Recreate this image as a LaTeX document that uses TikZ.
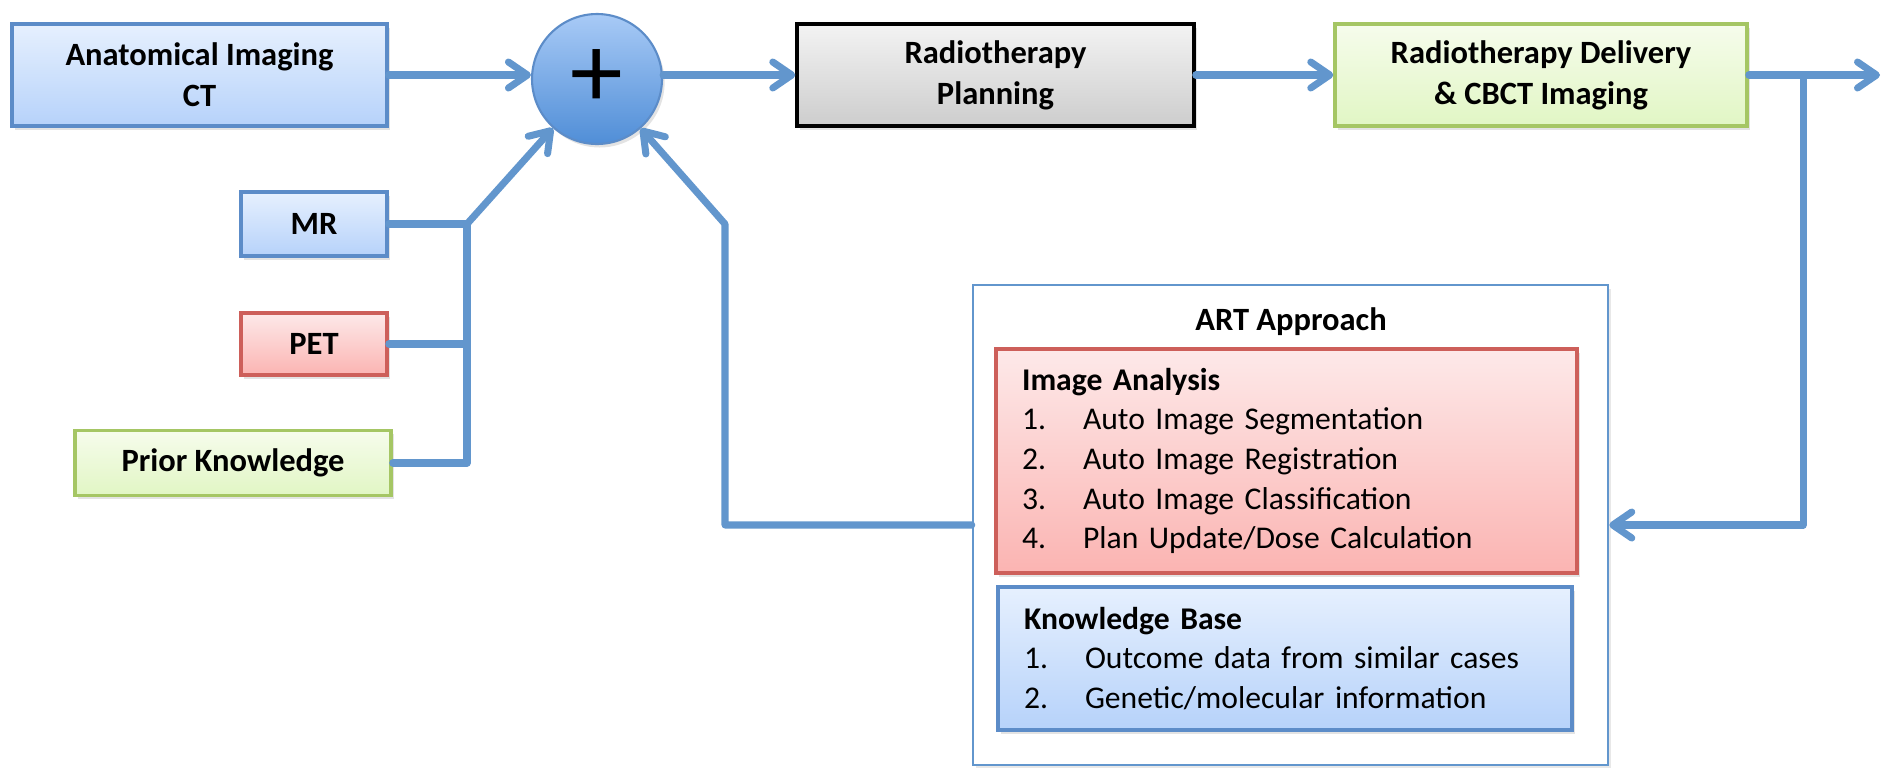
\documentclass[tikz,border=0pt]{standalone}
\usepackage{fontspec}
\setmainfont{Carlito}
\usetikzlibrary{arrows.meta, positioning, shadows}

\definecolor{arrowblue}{RGB}{98,150,205}
\definecolor{blueline}{RGB}{92,140,200}
\definecolor{bluetop}{RGB}{230,240,254}
\definecolor{bluebot}{RGB}{182,210,250}
\definecolor{redline}{RGB}{205,95,90}
\definecolor{redtop}{RGB}{253,233,233}
\definecolor{redbot}{RGB}{251,180,178}
\definecolor{greenline}{RGB}{165,198,100}
\definecolor{greentop}{RGB}{246,252,236}
\definecolor{greenbot}{RGB}{225,246,196}
\definecolor{graytop}{RGB}{243,243,243}
\definecolor{graybot}{RGB}{205,205,205}
\definecolor{circtop}{RGB}{168,202,246}
\definecolor{circbot}{RGB}{80,142,215}

\begin{document}
\begin{tikzpicture}[
    x=0.02cm, y=-0.02cm,
    mbox/.style={rectangle, line width=2pt, text centered, align=center, minimum height=2.04cm, font=\fontsize{18.5}{23.5}\selectfont\bfseries, drop shadow={opacity=0.22, shadow xshift=1.5pt, shadow yshift=-2pt}},
    bluebox/.style={mbox, draw=blueline, top color=bluetop, bottom color=bluebot},
    redbox/.style={mbox, draw=redline, top color=redtop, bottom color=redbot},
    greenbox/.style={mbox, draw=greenline, top color=greentop, bottom color=greenbot},
    graybox/.style={mbox, draw=black, top color=graytop, bottom color=graybot},
    listbox/.style={rectangle, line width=2pt, align=left, inner xsep=0.52cm, font=\fontsize{18}{22.6}\selectfont, drop shadow={opacity=0.22, shadow xshift=1.5pt, shadow yshift=-2pt}},
    mline/.style={line width=4pt, arrowblue, line join=round, line cap=round},
    marrow/.style={mline, -{Straight Barb[length=0.38cm, width=0.52cm, round]}}
]
\useasboundingbox (0,0) rectangle (1886,768);

% input boxes
\node[bluebox, minimum width=7.5cm] (ct) at (199.5,75) {Anatomical Imaging\\CT};
\node[bluebox, minimum width=2.92cm, minimum height=1.28cm] (mr) at (314,224) {MR};
\node[redbox, minimum width=2.92cm, minimum height=1.24cm] (pet) at (314,344) {PET};
\node[greenbox, minimum width=6.32cm, minimum height=1.3cm] (prior) at (233,463) {Prior Knowledge};

% sum and main chain
\node[circle, draw=blueline, line width=1.2pt, top color=circtop, bottom color=circbot, minimum size=2.6cm, inner sep=0pt, font=\fontsize{60}{60}\selectfont, drop shadow={opacity=0.22, shadow xshift=1.5pt, shadow yshift=-2pt}] (plus) at (597,79) {+};
\node[graybox, minimum width=7.94cm] (plan) at (995.5,75) {Radiotherapy\\Planning};
\node[greenbox, minimum width=8.24cm] (deliv) at (1541,75) {Radiotherapy Delivery\\\& CBCT Imaging};

% ART block
\node[draw=arrowblue, line width=1.5pt, fill=white, minimum width=12.7cm, minimum height=9.6cm, drop shadow={opacity=0.18, shadow xshift=1.5pt, shadow yshift=-2pt}] (art) at (1290.5,525) {};
\node[font=\fontsize{18.5}{22.8}\selectfont\bfseries] (arttitle) at (1291,322) {ART Approach};
\node[listbox, draw=redline, top color=redtop, bottom color=redbot, text width=10.58cm, minimum height=4.48cm] (ia) at (1286.5,461) {\textbf{Image Analysis}\\
  \makebox[1.22cm][l]{1.}Auto Image Segmentation\\
  \makebox[1.22cm][l]{2.}Auto Image Registration\\
  \makebox[1.22cm][l]{3.}Auto Image Classification\\
  \makebox[1.22cm][l]{4.}Plan Update/Dose Calculation};
\node[listbox, draw=blueline, top color=bluetop, bottom color=bluebot, text width=10.44cm, minimum height=2.86cm] (kb) at (1285,658.5) {\textbf{Knowledge Base}\\
  \makebox[1.22cm][l]{1.}Outcome data from similar cases\\
  \makebox[1.22cm][l]{2.}Genetic/molecular information};

% connectors
\coordinate (jn) at (467,224);
\coordinate (fb) at (725,224);
\coordinate (br) at (1803,75);
\coordinate (out) at (1880,75);

\draw[marrow] (ct) -- (ct -| plus.west);
\draw[marrow] (plus.east |- plan) -- (plan);
\draw[marrow] (plan) -- (deliv);
\draw[marrow] (deliv) -- (out);
\draw[marrow] (br) |- (art);
\draw[mline] (mr) -- (jn);
\draw[mline] (pet) -- (pet -| jn);
\draw[mline] (prior) -| (jn);
\draw[marrow] (jn) -- (plus);
\draw[marrow] (art) -| (fb) -- (plus);
\end{tikzpicture}
\end{document}
